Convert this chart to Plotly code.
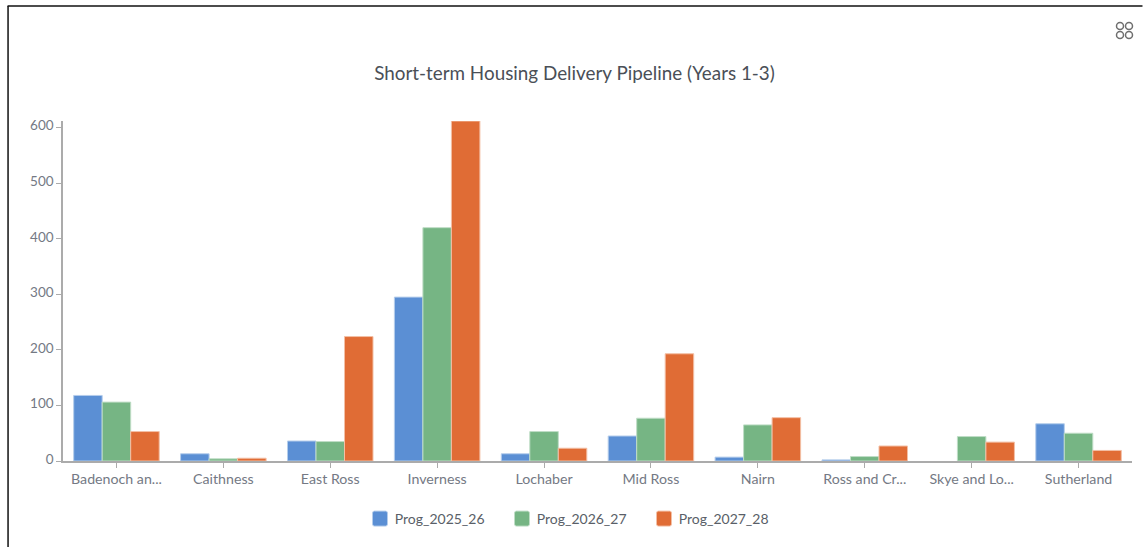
import plotly.graph_objects as go

categories = ["Badenoch an...", "Caithness", "East Ross", "Inverness", "Lochaber",
              "Mid Ross", "Nairn", "Ross and Cr...", "Skye and Lo...", "Sutherland"]
prog_2025_26 = [118, 13, 36, 295, 13, 45, 7, 2, None, 67]
prog_2026_27 = [106, 4, 35, 420, 53, 77, 65, 8, 44, 50]
prog_2027_28 = [53, 5, 224, 612, 23, 193, 78, 27, 34, 19]
title_text = "Short-term Housing Delivery Pipeline (Years 1-3)"

W, H = 1143, 547
L, R, T, B = 62.5, 1132.5, 121, 461


def px(x):
    return (x - L) / (R - L)


def py(y):
    return (B - y) / (B - T)


fig = go.Figure()
for name, vals, col, edge in [
    ("Prog_2025_26", prog_2025_26, "#5B8FD4", "#B5CDEB"),
    ("Prog_2026_27", prog_2026_27, "#76B584", "#BFDDC6"),
    ("Prog_2027_28", prog_2027_28, "#E06C35", "#F3BFA5"),
]:
    fig.add_bar(name=name, x=categories, y=vals, marker=dict(color=col, line=dict(color=edge, width=1)))

shapes = [
    dict(type="line", xref="paper", yref="paper", x0=px(7.5), x1=px(7.5), y0=py(6), y1=py(547),
         line=dict(color="#111111", width=1.5)),
    dict(type="line", xref="paper", yref="paper", x0=px(7), x1=px(1143), y0=py(6), y1=py(6),
         line=dict(color="#111111", width=1.5)),
]
for cx, cy in [(1120.5, 26), (1129.5, 26), (1120.5, 35), (1129.5, 35)]:
    shapes.append(dict(type="circle", xref="paper", yref="paper",
                       x0=px(cx - 3.5), x1=px(cx + 3.5), y0=py(cy - 3.5), y1=py(cy + 3.5),
                       line=dict(color="#6E6E6E", width=1.5)))

fig.update_layout(
    width=W, height=H, autosize=False,
    margin=dict(l=L, r=W - R, t=T, b=H - B, pad=0),
    paper_bgcolor="white", plot_bgcolor="white",
    font=dict(family="Lato, sans-serif", size=13, color="#747984"),
    barmode="group", bargap=0.2, bargroupgap=0,
    title=dict(text=title_text, x=574.5 / W, xanchor="center", y=1 - 73.5 / H, yanchor="middle",
               font=dict(size=18.85, color="#4A4F57", family="Lato, sans-serif")),
    xaxis=dict(showgrid=False, showline=True, linecolor="#ABABAB", linewidth=1.5,
               ticks="outside", ticklen=5, tickcolor="#ABABAB", tickfont=dict(size=14.2),
               ticklabelstandoff=-1, zeroline=False),
    yaxis=dict(range=[0, 612], tickvals=[0, 100, 200, 300, 400, 500, 600], showgrid=False, showline=True,
               linecolor="#ABABAB", linewidth=1.5, ticks="outside", ticklen=5, tickcolor="#ABABAB",
               tickfont=dict(size=13.5), ticklabelshift=-2, zeroline=False),
    legend=dict(orientation="h", x=354.7 / W, xanchor="left", xref="container",
                y=1 - 519 / H, yanchor="middle", yref="container", font=dict(size=14, color="#5A5F68"),
                itemwidth=30, entrywidth=97, entrywidthmode="pixels", traceorder="normal"),
    shapes=shapes,
    showlegend=True,
)
swatch_js = """
document.body.style.margin='0';document.body.style.overflow='hidden';
var gd=document.querySelector('.plotly-graph-div');
function sw(){gd.querySelectorAll('.legend .legendbar path, .legend .legendpoints path').forEach(function(p){
 p.setAttribute('d','M-5.5,-7.5H5.5Q7.5,-7.5 7.5,-5.5V5.5Q7.5,7.5 5.5,7.5H-5.5Q-7.5,7.5 -7.5,5.5V-5.5Q-7.5,-7.5 -5.5,-7.5Z');
 p.setAttribute('transform','translate(25.3,0)');});}
sw();if(gd.on){gd.on('plotly_afterplot',sw);}setTimeout(sw,50);
"""
fig.write_html("out.html", config=dict(displayModeBar=False), post_script=swatch_js)
